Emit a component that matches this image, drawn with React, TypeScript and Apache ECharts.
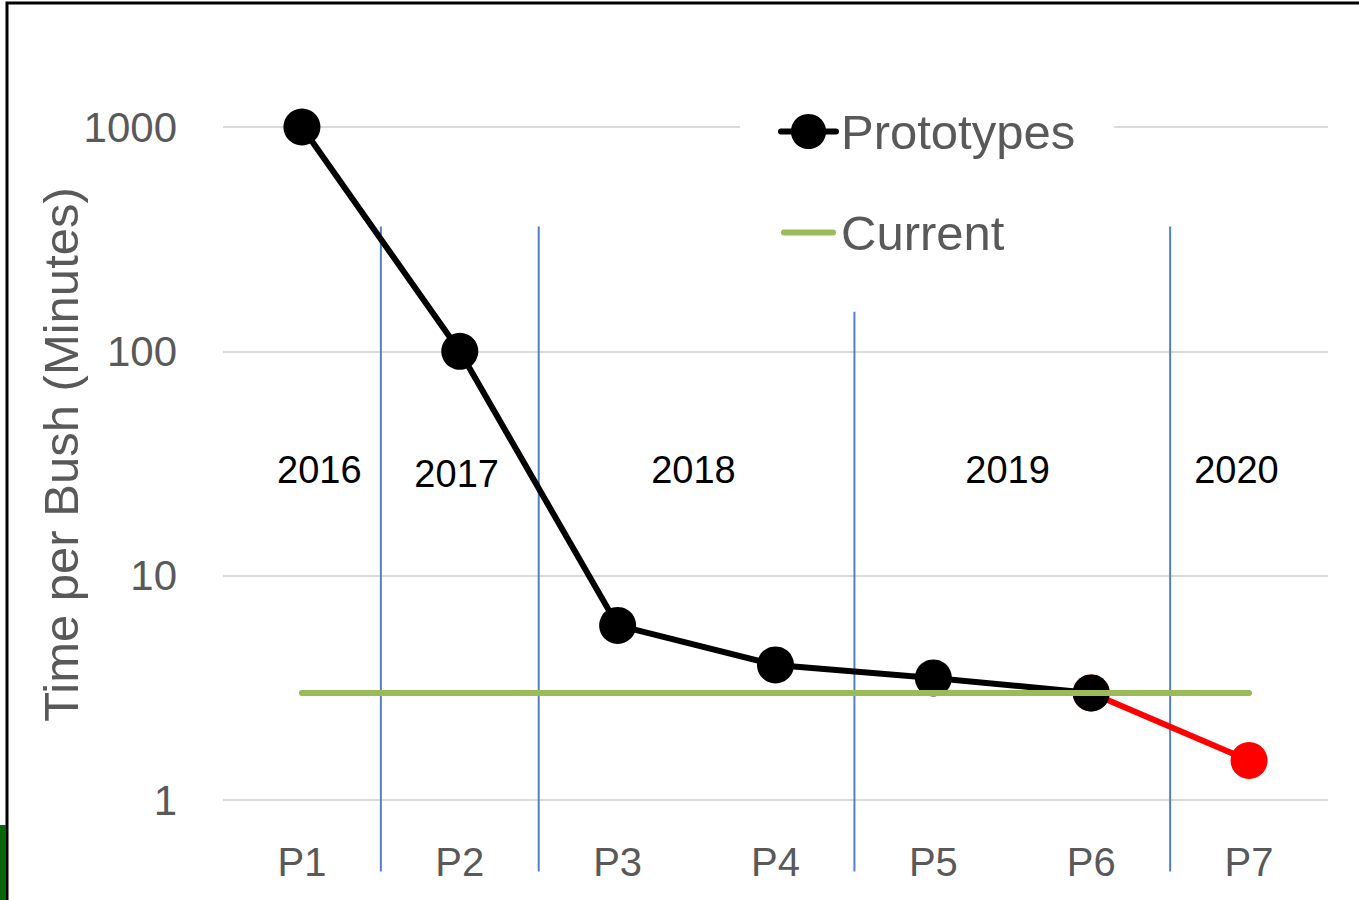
import React, { useEffect, useRef } from "react";
import * as echarts from "echarts";

const categories = ["P1", "P2", "P3", "P4", "P5", "P6", "P7"];
const prototypes: (number | string)[] = [1000, 100, 6, 4, 3.5, 3, "-"];
const forecast: (number | string)[] = ["-", "-", "-", "-", "-", 3, 1.5];
const current = [3, 3, 3, 3, 3, 3, 3];
const yTicks = [1, 10, 100, 1000];

// year dividers: [boundary position in category units, top value, bottom value]
const dividers: [number, number, number][] = [
  [0.5, 360, 0.48],
  [1.5, 360, 0.48],
  [3.5, 150, 0.48],
  [5.5, 360, 0.48],
];
// year labels: [position in category units, value, label]
const yearLabels: [number, number, string][] = [
  [0.11, 29.5, "2016"],
  [0.98, 28.5, "2017"],
  [2.48, 29.5, "2018"],
  [4.47, 29.5, "2019"],
  [5.92, 29.5, "2020"],
];

const FONT = "Liberation Sans";
const GRAY = "#595959";

export default function App() {
  const ref = useRef<HTMLDivElement>(null);
  useEffect(() => {
    const chart = echarts.init(ref.current!, null, { renderer: "svg" });
    chart.setOption({
      animation: false,
      backgroundColor: "#ffffff",
      grid: { left: 223, right: 31, top: 127, bottom: 100 },
      graphic: [
        {
          type: "rect",
          shape: { x: 7, y: 3, width: 1400, height: 1000 },
          style: { fill: "none", stroke: "#000", lineWidth: 3 },
          z: 100,
        },
        {
          type: "rect",
          shape: { x: 0, y: 825, width: 6, height: 75 },
          style: { fill: "#0a640a" },
          z: 100,
        },
      ],
      legend: {
        data: [
          { name: "Prototypes" },
          { name: "Current", icon: "path://M2,0 L53,0 A3,3 0 0 1 53,6 L2,6 A3,3 0 0 1 2,0 Z" },
        ],
        orient: "vertical",
        left: 740,
        top: 99,
        padding: [8, 39, 8, 38],
        backgroundColor: "#ffffff",
        itemWidth: 55,
        itemHeight: 44,
        itemGap: 52,
        lineStyle: { width: 6, cap: "round" },
        textStyle: { fontFamily: FONT, fontSize: 49, color: GRAY },
        z: 10,
      },
      xAxis: [
        {
          type: "category",
          data: categories,
          boundaryGap: true,
          axisLine: { show: false },
          axisTick: { show: false },
          axisLabel: { fontFamily: FONT, fontSize: 40, color: GRAY, margin: 42 },
          splitLine: { show: false },
        },
        {
          type: "value",
          min: -0.5,
          max: 6.5,
          show: false,
        },
      ],
      yAxis: {
        type: "log",
        logBase: 10,
        min: 1,
        max: 1000,
        axisLine: { show: false },
        axisTick: { show: false },
        axisLabel: {
          fontFamily: FONT,
          fontSize: 42,
          color: GRAY,
          margin: 46,
          formatter: (v: number) => (yTicks.includes(Math.round(v)) ? String(Math.round(v)) : ""),
        },
        splitLine: { lineStyle: { color: "#d9d9d9", width: 2 } },
        name: "Time per Bush (Minutes)",
        nameLocation: "middle",
        nameGap: 138,
        nameMoveOverlap: false,
        nameTextStyle: { fontFamily: FONT, fontSize: 49, color: GRAY, padding: [0, 0, 0, 18] },
      },
      series: [
        {
          type: "custom",
          xAxisIndex: 1,
          silent: true,
          z: 1,
          data: dividers,
          renderItem: (params: any, api: any) => {
            const top = api.coord([api.value(0), api.value(1)]);
            const bot = api.coord([api.value(0), api.value(2)]);
            return {
              type: "line",
              shape: { x1: top[0], y1: top[1], x2: bot[0], y2: bot[1] },
              style: { stroke: "#4f81c4", lineWidth: 2 },
            };
          },
        },
        {
          type: "custom",
          xAxisIndex: 1,
          silent: true,
          z: 1,
          data: yearLabels,
          renderItem: (params: any, api: any) => {
            const p = api.coord([api.value(0), api.value(1)]);
            return {
              type: "text",
              x: p[0],
              y: p[1],
              style: {
                text: yearLabels[params.dataIndex][2],
                fontFamily: FONT,
                fontSize: 38,
                fill: "#000",
                align: "center",
                verticalAlign: "middle",
              },
            };
          },
        },
        {
          name: "Prototypes",
          type: "line",
          data: prototypes,
          symbol: "circle",
          symbolSize: 37,
          color: "#000",
          lineStyle: { color: "#000", width: 6 },
          itemStyle: { color: "#000" },
          z: 3,
        },
        {
          name: "Forecast",
          type: "line",
          data: forecast,
          symbol: "circle",
          symbolSize: 37,
          color: "#ff0000",
          lineStyle: { color: "#ff0000", width: 6 },
          itemStyle: { color: "#ff0000" },
          z: 2,
        },
        {
          name: "Current",
          type: "line",
          data: current,
          symbol: "none",
          color: "#9bbb59",
          lineStyle: { color: "#9bbb59", width: 6, cap: "round" },
          z: 4,
        },
      ],
    });
    return () => chart.dispose();
  }, []);
  return (
    <div
      ref={ref}
      style={{ position: "absolute", left: 0, top: 0, width: 1359, height: 900 }}
    />
  );
}
